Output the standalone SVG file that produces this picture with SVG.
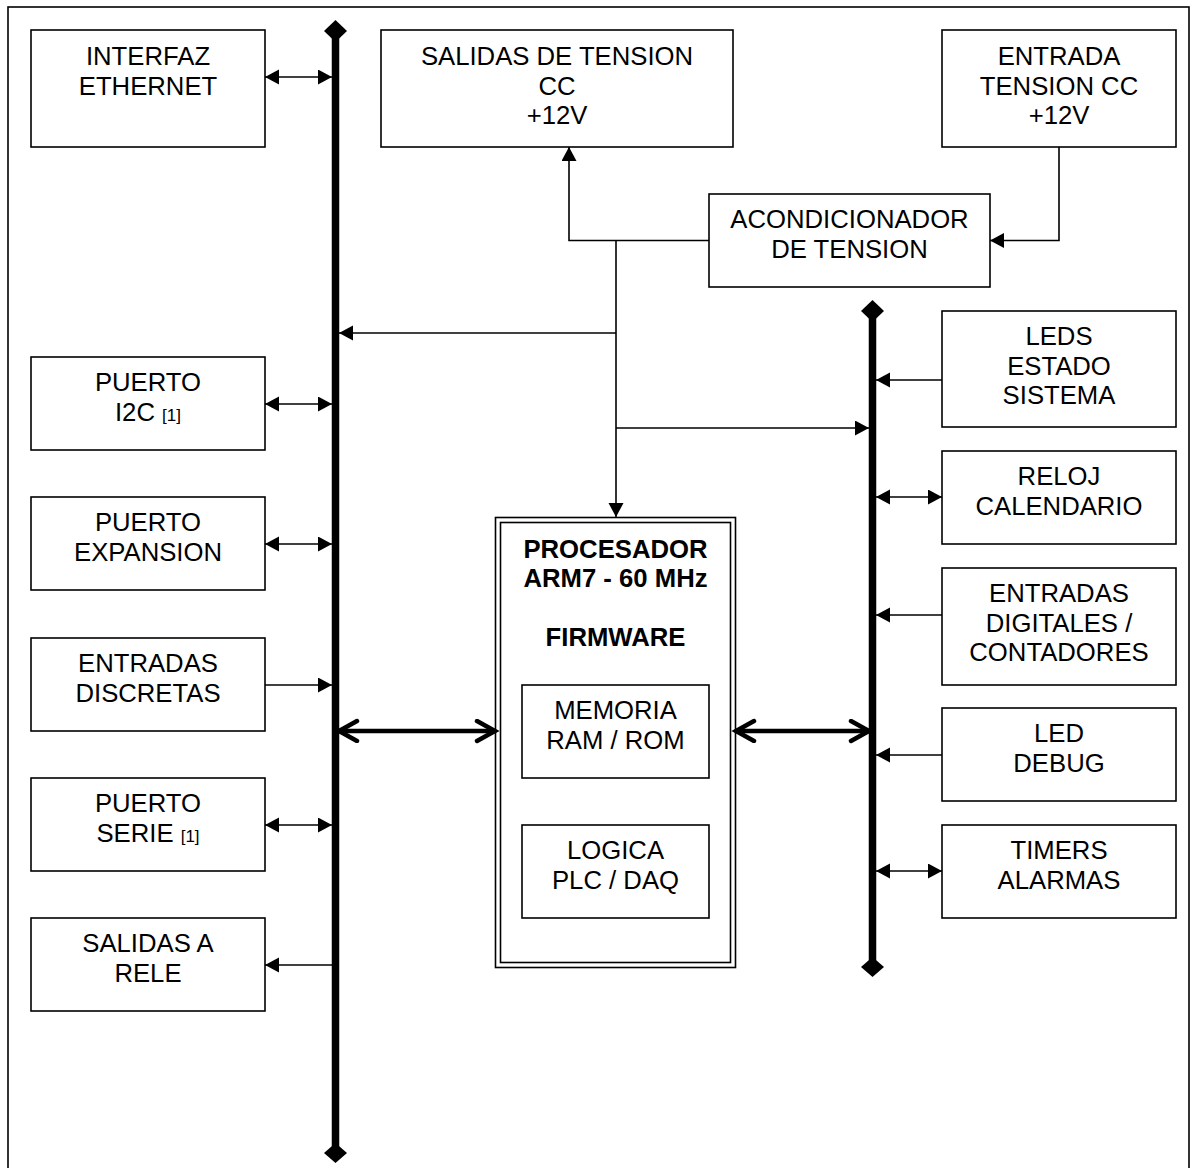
<svg xmlns="http://www.w3.org/2000/svg" width="1196" height="1168" viewBox="0 0 1196 1168">
<style>
.box{fill:#fff;stroke:#000;stroke-width:1.6}
.t{font-family:"Liberation Sans",Arial,sans-serif;font-size:25.7px;text-anchor:middle;fill:#000}
.b{font-weight:bold}
.s{font-size:17px}
.ln{fill:none;stroke:#000;stroke-width:1.6}
.bus{stroke:#000;stroke-width:7.5}
.big{fill:none;stroke:#000;stroke-width:4.5}
</style>
<defs>
<marker id="ah" markerUnits="userSpaceOnUse" markerWidth="16" markerHeight="16" refX="14" refY="7.5" orient="auto-start-reverse">
<path d="M0,0 L14,7.5 L0,15 Z" fill="#000"/>
</marker>
<marker id="ch" markerUnits="userSpaceOnUse" markerWidth="30" markerHeight="30" refX="21" refY="12" orient="auto-start-reverse">
<path d="M3,2 L21,12 L3,22" fill="none" stroke="#000" stroke-width="4.5" stroke-linecap="round" stroke-linejoin="miter"/>
</marker>
</defs>
<rect x="8" y="7" width="1181" height="1190" fill="#fff" stroke="#000" stroke-width="1.6"/>

<g id="buses">
<line class="bus" x1="335.5" y1="31" x2="335.5" y2="1153"/>
<path d="M335.5,20 L347,31 L335.5,42 L324,31 Z"/>
<path d="M335.5,1143 L347,1153 L335.5,1163 L324,1153 Z"/>
<line class="bus" x1="872.5" y1="311" x2="872.5" y2="967"/>
<path d="M872.5,300 L884,311 L872.5,322 L861,311 Z"/>
<path d="M872.5,957 L884,967 L872.5,977 L861,967 Z"/>
</g>

<g id="ethernet"><rect class="box" x="31" y="30" width="234" height="117"/>
<text class="t" x="148" y="65">INTERFAZ</text><text class="t" x="148" y="95">ETHERNET</text></g>
<g id="salidas-tension"><rect class="box" x="381" y="30" width="352" height="117"/>
<text class="t" x="557" y="65">SALIDAS DE TENSION</text><text class="t" x="557" y="95">CC</text><text class="t" x="557" y="124">+12V</text></g>
<g id="entrada-tension"><rect class="box" x="942" y="30" width="234" height="117"/>
<text class="t" x="1059" y="65">ENTRADA</text><text class="t" x="1059" y="95">TENSION CC</text><text class="t" x="1059" y="124">+12V</text></g>
<g id="acondicionador"><rect class="box" x="709" y="194" width="281" height="93"/>
<text class="t" x="849.5" y="228">ACONDICIONADOR</text><text class="t" x="849.5" y="258">DE TENSION</text></g>

<g id="i2c"><rect class="box" x="31" y="357" width="234" height="93"/>
<text class="t" x="148" y="391">PUERTO</text><text class="t" x="148" y="421">I2C <tspan class="s">[1]</tspan></text></g>
<g id="expansion"><rect class="box" x="31" y="497" width="234" height="93"/>
<text class="t" x="148" y="531">PUERTO</text><text class="t" x="148" y="561">EXPANSION</text></g>
<g id="discretas"><rect class="box" x="31" y="638" width="234" height="93"/>
<text class="t" x="148" y="672">ENTRADAS</text><text class="t" x="148" y="702">DISCRETAS</text></g>
<g id="serie"><rect class="box" x="31" y="778" width="234" height="93"/>
<text class="t" x="148" y="812">PUERTO</text><text class="t" x="148" y="842">SERIE <tspan class="s">[1]</tspan></text></g>
<g id="rele"><rect class="box" x="31" y="918" width="234" height="93"/>
<text class="t" x="148" y="952">SALIDAS A</text><text class="t" x="148" y="982">RELE</text></g>

<g id="leds"><rect class="box" x="942" y="311" width="234" height="116"/>
<text class="t" x="1059" y="345">LEDS</text><text class="t" x="1059" y="375">ESTADO</text><text class="t" x="1059" y="404">SISTEMA</text></g>
<g id="reloj"><rect class="box" x="942" y="451" width="234" height="93"/>
<text class="t" x="1059" y="485">RELOJ</text><text class="t" x="1059" y="515">CALENDARIO</text></g>
<g id="digitales"><rect class="box" x="942" y="568" width="234" height="117"/>
<text class="t" x="1059" y="602">ENTRADAS</text><text class="t" x="1059" y="632">DIGITALES /</text><text class="t" x="1059" y="661">CONTADORES</text></g>
<g id="debug"><rect class="box" x="942" y="708" width="234" height="93"/>
<text class="t" x="1059" y="742">LED</text><text class="t" x="1059" y="772">DEBUG</text></g>
<g id="timers"><rect class="box" x="942" y="825" width="234" height="93"/>
<text class="t" x="1059" y="859">TIMERS</text><text class="t" x="1059" y="889">ALARMAS</text></g>

<g id="procesador"><rect class="box" x="495.5" y="517.5" width="240" height="450"/>
<rect class="box" x="500.5" y="522.5" width="230" height="440"/>
<text class="t b" x="615.5" y="558">PROCESADOR</text><text class="t b" x="615.5" y="587">ARM7 - 60 MHz</text><text class="t b" x="615.5" y="646">FIRMWARE</text></g>
<g id="memoria"><rect class="box" x="522" y="685" width="187" height="93"/>
<text class="t" x="615.5" y="719">MEMORIA</text><text class="t" x="615.5" y="749">RAM / ROM</text></g>
<g id="logica"><rect class="box" x="522" y="825" width="187" height="93"/>
<text class="t" x="615.5" y="859">LOGICA</text><text class="t" x="615.5" y="889">PLC / DAQ</text></g>

<g id="connectors">
<line class="ln" x1="265" y1="77" x2="332" y2="77" marker-start="url(#ah)" marker-end="url(#ah)"/>
<line class="ln" x1="265" y1="404" x2="332" y2="404" marker-start="url(#ah)" marker-end="url(#ah)"/>
<line class="ln" x1="265" y1="544" x2="332" y2="544" marker-start="url(#ah)" marker-end="url(#ah)"/>
<line class="ln" x1="265" y1="685" x2="332" y2="685" marker-end="url(#ah)"/>
<line class="ln" x1="265" y1="825" x2="332" y2="825" marker-start="url(#ah)" marker-end="url(#ah)"/>
<line class="ln" x1="332" y1="965" x2="265" y2="965" marker-end="url(#ah)"/>
<polyline class="ln" points="709,240.5 569,240.5 569,147" marker-end="url(#ah)"/>
<polyline class="ln" points="1059,147 1059,240.5 990,240.5" marker-end="url(#ah)"/>
<line class="ln" x1="616" y1="240.5" x2="616" y2="517" marker-end="url(#ah)"/>
<line class="ln" x1="616" y1="333" x2="339" y2="333" marker-end="url(#ah)"/>
<line class="ln" x1="616" y1="428" x2="869" y2="428" marker-end="url(#ah)"/>
<line class="ln" x1="942" y1="380" x2="876" y2="380" marker-end="url(#ah)"/>
<line class="ln" x1="876" y1="497" x2="942" y2="497" marker-start="url(#ah)" marker-end="url(#ah)"/>
<line class="ln" x1="942" y1="615" x2="876" y2="615" marker-end="url(#ah)"/>
<line class="ln" x1="942" y1="755" x2="876" y2="755" marker-end="url(#ah)"/>
<line class="ln" x1="876" y1="871" x2="942" y2="871" marker-start="url(#ah)" marker-end="url(#ah)"/>
<line class="big" x1="339" y1="731" x2="495" y2="731" marker-start="url(#ch)" marker-end="url(#ch)"/>
<line class="big" x1="736" y1="731" x2="869" y2="731" marker-start="url(#ch)" marker-end="url(#ch)"/>
</g>
</svg>
